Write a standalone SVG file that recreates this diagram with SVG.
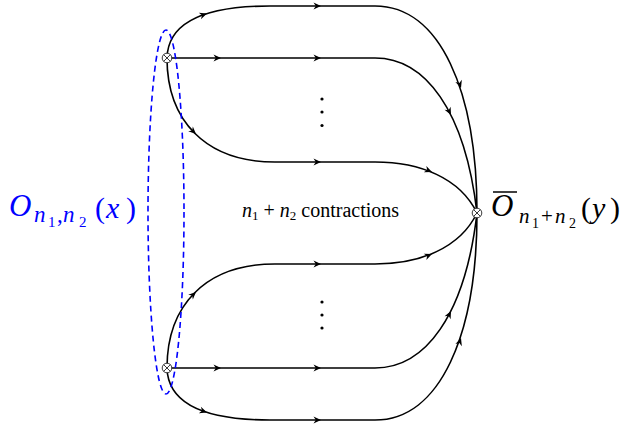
<svg xmlns="http://www.w3.org/2000/svg" xmlns:xlink="http://www.w3.org/1999/xlink" width="622" height="425" viewBox="0 0 622 425">
<style>
.ln{fill:none;stroke:#000;stroke-width:1.6}
.ah{fill:#000}
.nd{fill:#fff;stroke:#222;stroke-width:0.9}
.x{stroke:#222;stroke-width:0.9}
.el{fill:none;stroke:#0000ff;stroke-width:1.6;stroke-dasharray:6 4}
.dot{fill:#000}
.lbl{font-family:"Liberation Serif","DejaVu Serif",serif}
</style>
<defs>
<path id="ah" d="M0,0 L-7.5,-3.4 L-5.2,0 L-7.5,3.4 Z"/>
<g id="otimes">
<circle class="nd" r="4.8"/>
<line class="x" x1="-3.4" y1="-3.4" x2="3.4" y2="3.4"/>
<line class="x" x1="-3.4" y1="3.4" x2="3.4" y2="-3.4"/>
</g>
</defs>
<rect width="622" height="425" fill="#fff"/>
<g id="connectors">
<path class="ln" d="M167,58 C168,22 205,6 270,6 L375,6 C440,6 477,91 477,213"/>
<path class="ln" d="M167,58 L375,58 C425,58 465,110 477,213"/>
<path class="ln" d="M167,58 C167,120 205,162 275,162 L375,162 C420,162 460,178 477,213"/>
<path class="ln" d="M167,368 C167,306 205,264 275,264 L375,264 C420,264 460,248 477,213"/>
<path class="ln" d="M167,368 L375,368 C425,368 465,316 477,213"/>
<path class="ln" d="M167,368 C168,404 205,420 270,420 L375,420 C440,420 477,335 477,213"/>
<g class="ah">
<use xlink:href="#ah" transform="translate(207,13.6) rotate(-18)"/>
<use xlink:href="#ah" transform="translate(321,6)"/>
<use xlink:href="#ah" transform="translate(461,88) rotate(71.5)"/>
<use xlink:href="#ah" transform="translate(221,58)"/>
<use xlink:href="#ah" transform="translate(321,58)"/>
<use xlink:href="#ah" transform="translate(451,115) rotate(63)"/>
<use xlink:href="#ah" transform="translate(196,134) rotate(43)"/>
<use xlink:href="#ah" transform="translate(321,162)"/>
<use xlink:href="#ah" transform="translate(432,172) rotate(22)"/>
<use xlink:href="#ah" transform="translate(196,292) rotate(-43)"/>
<use xlink:href="#ah" transform="translate(321,264)"/>
<use xlink:href="#ah" transform="translate(432,254) rotate(-22)"/>
<use xlink:href="#ah" transform="translate(221,368)"/>
<use xlink:href="#ah" transform="translate(321,368)"/>
<use xlink:href="#ah" transform="translate(451,311) rotate(-63)"/>
<use xlink:href="#ah" transform="translate(207,412.4) rotate(18)"/>
<use xlink:href="#ah" transform="translate(321,420)"/>
<use xlink:href="#ah" transform="translate(461,338) rotate(-71.5)"/>
</g>
</g>
<g id="dots-top">
<circle class="dot" cx="322" cy="99" r="1.6"/>
<circle class="dot" cx="322" cy="112" r="1.6"/>
<circle class="dot" cx="322" cy="125.5" r="1.6"/>
</g>
<g id="dots-bottom">
<circle class="dot" cx="322" cy="302" r="1.6"/>
<circle class="dot" cx="322" cy="315" r="1.6"/>
<circle class="dot" cx="322" cy="328" r="1.6"/>
</g>
<g id="group-ellipse">
<ellipse class="el" cx="166" cy="212" rx="18" ry="182"/>
</g>
<g id="node-x1"><use xlink:href="#otimes" x="167" y="58"/></g>
<g id="node-x2"><use xlink:href="#otimes" x="167" y="368"/></g>
<g id="node-y"><use xlink:href="#otimes" x="477" y="213"/></g>
<g id="label-left" class="lbl" fill="#0000ff">
<text x="9" y="216" font-size="31" font-style="italic">O</text>
<text x="34" y="222" font-size="23" font-style="italic">n</text>
<text x="48" y="227" font-size="15">1</text>
<text x="57" y="222" font-size="23">,</text>
<text x="63" y="222" font-size="23" font-style="italic">n</text>
<text x="79" y="227" font-size="15">2</text>
<text x="95" y="218" font-size="30">(</text>
<text x="106" y="218" font-size="30" font-style="italic">x</text>
<text x="126" y="218" font-size="30">)</text>
</g>
<g id="label-right" class="lbl" fill="#000">
<line x1="493" y1="192" x2="517" y2="192" stroke="#000" stroke-width="1.5"/>
<text x="491" y="216" font-size="31" font-style="italic">O</text>
<text x="519" y="223" font-size="21" font-style="italic">n</text>
<text x="532" y="228" font-size="14">1</text>
<text x="541" y="223" font-size="21">+</text>
<text x="555" y="223" font-size="21" font-style="italic">n</text>
<text x="569" y="228" font-size="14">2</text>
<text x="581" y="218" font-size="30">(</text>
<text x="592" y="218" font-size="30" font-style="italic">y</text>
<text x="610" y="218" font-size="30">)</text>
</g>
<g id="label-center" class="lbl" fill="#000">
<text x="242" y="217" font-size="20"><tspan font-style="italic">n</tspan><tspan font-size="13" dy="3">1</tspan><tspan dy="-3"> + </tspan><tspan font-style="italic">n</tspan><tspan font-size="13" dy="3">2</tspan><tspan dy="-3"> contractions</tspan></text>
</g>
</svg>
